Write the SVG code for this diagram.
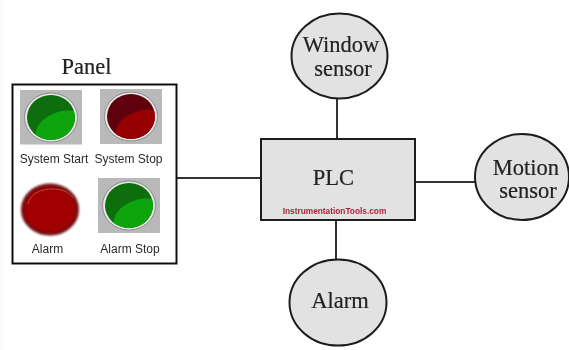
<svg xmlns="http://www.w3.org/2000/svg" width="569" height="350" viewBox="0 0 569 350">
<defs>
<filter id="soft" x="-5%" y="-5%" width="110%" height="110%"><feGaussianBlur stdDeviation="0.6"/></filter>
<filter id="soft2" x="-20%" y="-20%" width="140%" height="140%"><feGaussianBlur stdDeviation="0.9"/></filter>
<clipPath id="lens"><ellipse rx="24" ry="22.500"/></clipPath>
<g id="green">
<ellipse rx="26.500" ry="24.500" fill="#e8e8e8" stroke="#8a8a8a" stroke-width="1"/>
<ellipse rx="24" ry="22.500" fill="#0a6e0a"/>
<g clip-path="url(#lens)"><ellipse cx="11" cy="12" rx="27" ry="18" transform="rotate(-18 11 12)" fill="#0ca40c"/></g>
</g>
<g id="red">
<ellipse rx="26.500" ry="24.500" fill="#e8e8e8" stroke="#8a8a8a" stroke-width="1"/>
<ellipse rx="24" ry="22.500" fill="#5f0208"/>
<g clip-path="url(#lens)"><ellipse cx="11" cy="12" rx="27" ry="18" transform="rotate(-18 11 12)" fill="#970404"/></g>
</g>
</defs>
<style>
.box{fill:#e2e2e2;stroke:#1c1c1c;stroke-width:2}
.line{fill:none;stroke:#333;stroke-width:2}
.serif{font-family:"Liberation Serif","Times New Roman",serif;fill:#222;stroke:#222;stroke-width:.2;text-anchor:middle;font-size:22.500px}
.sans{font-family:"Liberation Sans",Arial,sans-serif;fill:#2a2a2a;text-anchor:middle;font-size:12px}
.sq{fill:#b9b9b9}
</style>
<rect width="569" height="350" fill="#fff"/>
<rect x="0" y="0" width="4" height="350" fill="#fafafa"/>
<g filter="url(#soft)">
<g id="connectors">
<path class="line" d="M177 178H261"/>
<path class="line" d="M337 98V139"/>
<path class="line" d="M415 182H475"/>
<path class="line" d="M336 220V259"/>
</g>
<g id="panel">
<text class="serif" x="86.500" y="74">Panel</text>
<rect x="12.500" y="84.500" width="164" height="179" fill="#fff" stroke="#111" stroke-width="2"/>
<rect class="sq" x="20" y="90" width="62" height="54.500"/>
<use href="#green" x="51" y="117.500"/>
<rect class="sq" x="100" y="89" width="62" height="55"/>
<use href="#red" x="131" y="116.500"/>
<ellipse cx="50" cy="209.500" rx="27.500" ry="24.500" fill="#a00606" stroke="#6d0a12" stroke-width="3" filter="url(#soft2)"/>
<path d="M28 204 C30 193 42 189 52 189 C62 189 69 192 73 198" fill="none" stroke="#b85a5a" stroke-width=".8"/>
<rect class="sq" x="98" y="178" width="62" height="55"/>
<use href="#green" x="129" y="205.500"/>
<text class="sans" x="54" y="163">System Start</text>
<text class="sans" x="128.500" y="163">System Stop</text>
<text class="sans" x="47.500" y="253">Alarm</text>
<text class="sans" x="130" y="253">Alarm Stop</text>
</g>
<g id="plc">
<rect class="box" x="261" y="139" width="154" height="81"/>
<text class="serif" x="333.500" y="185">PLC</text>
<text x="334.500" y="214" font-family="'Liberation Sans',Arial,sans-serif" font-weight="bold" font-size="8.300" fill="#a8243e" text-anchor="middle">InstrumentationTools.com</text>
</g>
<g id="window-sensor">
<ellipse class="box" cx="339.500" cy="56" rx="48" ry="42.500"/>
<text class="serif" x="341" y="52">Window</text>
<text class="serif" x="343" y="76">sensor</text>
</g>
<g id="motion-sensor">
<ellipse class="box" cx="522" cy="177" rx="47" ry="43"/>
<text class="serif" x="526" y="175">Motion</text>
<text class="serif" x="528" y="198">sensor</text>
</g>
<g id="alarm">
<ellipse class="box" cx="338" cy="302.500" rx="48.500" ry="43"/>
<text class="serif" x="340" y="308">Alarm</text>
</g>
</g>
</svg>
